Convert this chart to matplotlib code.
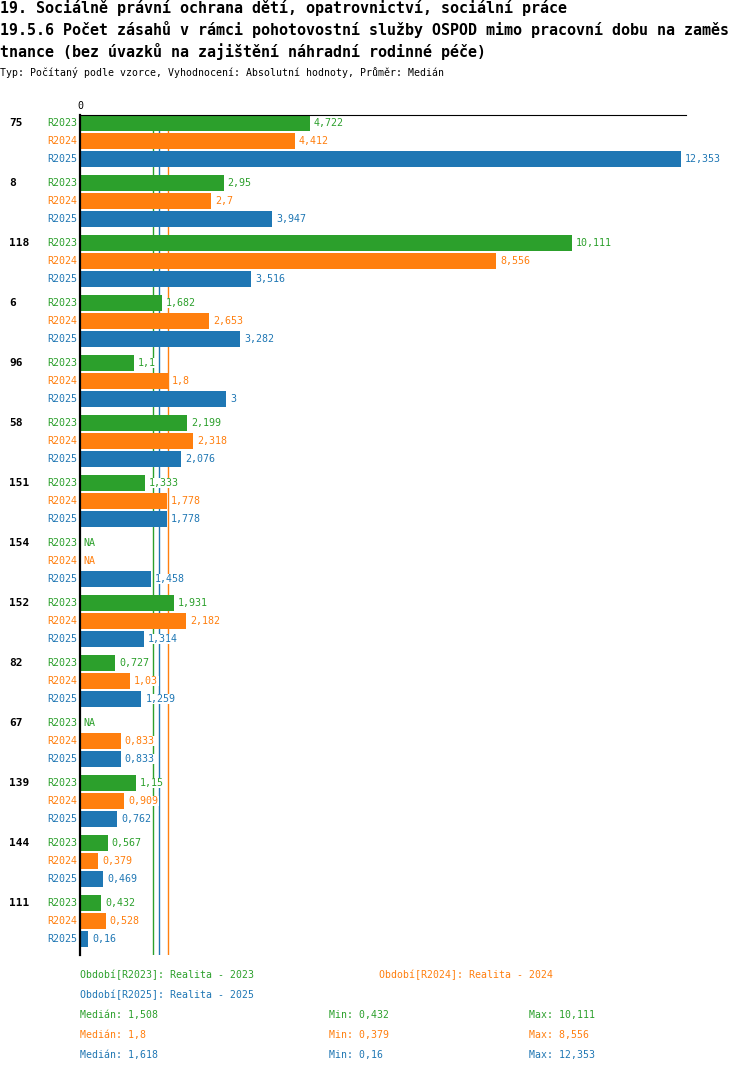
import matplotlib
matplotlib.use("Agg")
import matplotlib.pyplot as plt
import numpy as np

# data (None = NA)
groups = ["75", "8", "118", "6", "96", "58", "151", "154", "152", "82", "67", "139", "144", "111"]
series = ["R2023", "R2024", "R2025"]
r2023 = [4.722, 2.95, 10.111, 1.682, 1.1, 2.199, 1.333, None, 1.931, 0.727, None, 1.15, 0.567, 0.432]
r2024 = [4.412, 2.7, 8.556, 2.653, 1.8, 2.318, 1.778, None, 2.182, 1.03, 0.833, 0.909, 0.379, 0.528]
r2025 = [12.353, 3.947, 3.516, 3.282, 3, 2.076, 1.778, 1.458, 1.314, 1.259, 0.833, 0.762, 0.469, 0.16]
period_names = ["Realita - 2023", "Realita - 2024", "Realita - 2025"]
colors = ["#2ca02c", "#ff7f0e", "#1f77b4"]

title_lines = [
    "19. Sociálně právní ochrana dětí, opatrovnictví, sociální práce",
    "19.5.6 Počet zásahů v rámci pohotovostní služby OSPOD mimo pracovní dobu na zaměs",
    "tnance (bez úvazků na zajištění náhradní rodinné péče)",
]
subtitle = "Typ: Počítaný podle vzorce, Vyhodnocení: Absolutní hodnoty, Průměr: Medián"

W, H = 750, 1074
MONO = "DejaVu Sans Mono"
plt.rcParams["font.family"] = MONO


def fmt(v):
    # round half up to 3 decimals, comma as decimal separator
    v = np.floor(v * 1000 + 0.5 + 1e-9) / 1000
    return f"{v:g}".replace(".", ",")


def fx(px):
    return px / W


def fy(py):
    return 1 - py / H


fig = plt.figure(figsize=(W / 100, H / 100), dpi=100)

# titles
for i, line in enumerate(title_lines):
    fig.text(fx(0), fy(8 + 21.5 * i), line, fontsize=10.8, fontweight="bold",
             va="center", ha="left")
fig.text(fx(0), fy(73), subtitle, fontsize=7.1, va="center", ha="left")

# plot area: x=80..686 px, y=115..955 px
ax = fig.add_axes([fx(80), fy(955), 606 / W, 840 / H])
scale = 601 / 12.353  # px per unit
ax.set_xlim(0, 606 / scale)
n = len(groups)
ax.set_ylim(n * 60, 0)

data = [r2023, r2024, r2025]
for g in range(n):
    ax.text(-71 / scale, g * 60 + 8, groups[g], fontsize=8, fontweight="bold",
            va="center", ha="left")
    for r, vals in enumerate(data):
        yc = g * 60 + r * 18 + 8
        v = vals[g]
        ax.text(-3 / scale, yc, series[r], color=colors[r], fontsize=7.2,
                va="center", ha="right")
        if v is None:
            ax.text(3 / scale, yc, "NA", color=colors[r], fontsize=7.2,
                    va="center", ha="left")
            continue
        ax.barh(yc, v, height=16, color=colors[r], zorder=2)
        ax.annotate(fmt(v), (v, yc), xytext=(3, 0), textcoords="offset points",
                    color=colors[r], fontsize=7.2, va="center", ha="left", zorder=4,
                    bbox=dict(facecolor="white", edgecolor="none", pad=0.3))

# median lines (behind the bars)
medians = [np.median([v for v in vals if v is not None]) for vals in data]
for r in range(3):
    ax.axvline(medians[r], color=colors[r], lw=1, zorder=1)

for s in ["right", "bottom"]:
    ax.spines[s].set_visible(False)
ax.spines["left"].set_linewidth(1.6)
ax.spines["left"].set_zorder(5)
ax.spines["top"].set_linewidth(0.8)
ax.set_yticks([])
ax.xaxis.tick_top()
ax.set_xticks([0])
ax.set_xticklabels(["0"])
ax.tick_params(axis="x", length=0, pad=3, labelsize=7.2)

# legend / summary rows
fig.text(fx(80), fy(975), f"Období[{series[0]}]: {period_names[0]}", color=colors[0],
         fontsize=7.15, va="center", ha="left")
fig.text(fx(379), fy(975), f"Období[{series[1]}]: {period_names[1]}", color=colors[1],
         fontsize=7.15, va="center", ha="left")
fig.text(fx(80), fy(995), f"Období[{series[2]}]: {period_names[2]}", color=colors[2],
         fontsize=7.15, va="center", ha="left")
for r, vals in enumerate(data):
    clean = [v for v in vals if v is not None]
    y = fy(1015 + 20 * r)
    fig.text(fx(80), y, f"Medián: {fmt(medians[r])}", color=colors[r],
             fontsize=7.15, va="center", ha="left")
    fig.text(fx(329), y, f"Min: {fmt(min(clean))}", color=colors[r],
             fontsize=7.15, va="center", ha="left")
    fig.text(fx(529), y, f"Max: {fmt(max(clean))}", color=colors[r],
             fontsize=7.15, va="center", ha="left")

fig.savefig("out.png", dpi=100)
